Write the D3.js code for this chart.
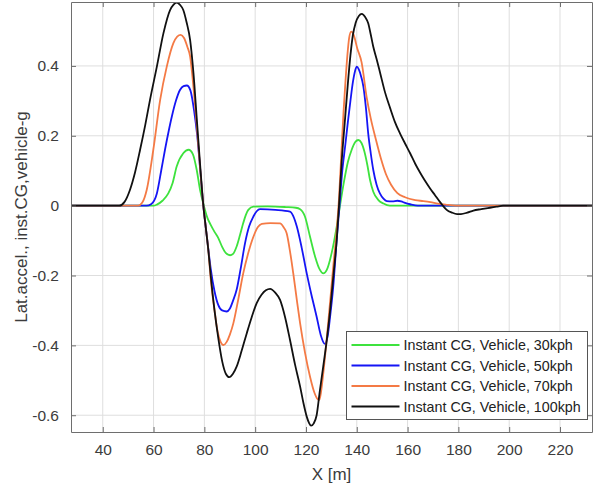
<!DOCTYPE html>
<html>
<head>
<meta charset="utf-8">
<script src="https://cdn.jsdelivr.net/npm/d3@7"></script>
<style>
  html, body { margin: 0; padding: 0; background: #fff; }
  svg { display: block; font-family: "Liberation Sans", Arial, Helvetica, sans-serif; }
</style>
</head>
<body>
<svg id="chart" width="593" height="490"></svg>
<script>
// Lateral acceleration at the instant CG vs. longitudinal position, per speed
const xTicks = [40, 60, 80, 100, 120, 140, 160, 180, 200, 220];
const yTicks = [-0.6, -0.4, -0.2, 0, 0.2, 0.4];
const xRange = [27.5, 232.6];
const yRange = [-0.648, 0.583];

const seriesNames = [
  "Instant CG, Vehicle, 30kph",
  "Instant CG, Vehicle, 50kph",
  "Instant CG, Vehicle, 70kph",
  "Instant CG, Vehicle, 100kph"
];
const seriesColors = ["#3de23d", "#1515f5", "#f47a45", "#111111"];

const x30 = [27.5, 60, 61.3, 63.5, 65.8, 67.5, 69.1, 71.7, 73.8, 75.5, 77, 78.3, 79.8, 81.2, 82.5, 84, 85.5, 87, 88.5, 90.1, 91.3, 92.7, 94, 95.3, 96.3, 97.3, 99.3, 105, 112, 116, 117.7, 119.6, 121.6, 123.6, 125.5, 126.8, 128.2, 130.1, 132.1, 133.4, 135, 136.5, 138, 139.4, 140.6, 141.8, 143, 144.2, 145.2, 146.5, 148.5, 150.5, 153, 232.6];
const y30 = [0, 0, 0.003, 0.014, 0.035, 0.065, 0.112, 0.15, 0.16, 0.147, 0.102, 0.045, 0, -0.035, -0.055, -0.075, -0.093, -0.118, -0.136, -0.142, -0.138, -0.117, -0.085, -0.05, -0.027, -0.012, -0.003, -0.002, -0.004, -0.006, -0.01, -0.031, -0.089, -0.146, -0.184, -0.194, -0.184, -0.136, -0.06, 0, 0.07, 0.125, 0.16, 0.182, 0.188, 0.18, 0.155, 0.115, 0.074, 0.04, 0.016, 0.006, 0, 0];

const x50 = [27.5, 57.3, 59, 61.3, 63, 64.5, 66, 67.2, 68.8, 70.4, 71.8, 73.1, 74.5, 76, 77.2, 78.4, 79.6, 80.6, 81.6, 82.5, 84, 85.5, 87, 88.8, 90, 91.3, 92.7, 94.3, 96, 97.6, 99.3, 100.6, 101.9, 108, 113.7, 115, 116.4, 118.3, 120.3, 122.3, 124.2, 125.8, 127.5, 128.5, 129.5, 130.7, 132.1, 133.2, 134.3, 135.5, 136.5, 137.5, 138.5, 139.3, 140, 140.8, 141.7, 142.6, 143.6, 144.5, 145.5, 146.5, 147.8, 149.1, 150.5, 151.8, 154, 156, 157.5, 159, 161, 164, 232.6];
const y50 = [0, 0, 0.004, 0.035, 0.1, 0.16, 0.215, 0.255, 0.3, 0.331, 0.342, 0.344, 0.33, 0.27, 0.2, 0.1, 0, -0.065, -0.127, -0.18, -0.245, -0.285, -0.3, -0.303, -0.295, -0.272, -0.241, -0.18, -0.108, -0.06, -0.031, -0.016, -0.01, -0.012, -0.017, -0.03, -0.06, -0.12, -0.194, -0.26, -0.318, -0.37, -0.396, -0.375, -0.318, -0.235, -0.098, 0, 0.1, 0.175, 0.24, 0.3, 0.355, 0.385, 0.398, 0.39, 0.37, 0.341, 0.28, 0.207, 0.15, 0.102, 0.06, 0.035, 0.02, 0.013, 0.012, 0.014, 0.012, 0.008, 0.004, 0, 0];

const x70 = [27.5, 54, 55.5, 57.3, 59.9, 62.6, 65.2, 67.8, 69.3, 70.7, 72, 73.3, 74.4, 75.7, 77, 78.3, 79.6, 80.6, 81.6, 82.5, 84, 85.2, 86.4, 87.5, 88.8, 90, 91.4, 93.3, 95.3, 97.3, 99.3, 101, 102.6, 106, 109.8, 111.2, 112.4, 113.7, 115, 116.4, 117.7, 119.6, 121.6, 123.3, 124.5, 125.3, 126.5, 127.8, 129.2, 130.8, 132.1, 133, 134, 134.8, 135.5, 136.3, 137, 137.8, 138.7, 140.2, 141.9, 143.9, 145.5, 147.5, 149.5, 151.5, 153.5, 156, 159, 163, 166.2, 169, 172, 175, 179, 232.6];
const y70 = [0, 0, 0.008, 0.045, 0.16, 0.303, 0.398, 0.465, 0.484, 0.489, 0.48, 0.455, 0.427, 0.34, 0.23, 0.11, 0, -0.065, -0.13, -0.21, -0.3, -0.36, -0.39, -0.399, -0.39, -0.37, -0.337, -0.27, -0.194, -0.135, -0.089, -0.062, -0.052, -0.05, -0.051, -0.062, -0.079, -0.13, -0.194, -0.27, -0.337, -0.42, -0.49, -0.535, -0.553, -0.556, -0.5, -0.41, -0.3, -0.17, -0.07, 0.02, 0.16, 0.27, 0.35, 0.43, 0.48, 0.498, 0.49, 0.45, 0.41, 0.31, 0.25, 0.19, 0.135, 0.09, 0.06, 0.036, 0.024, 0.016, 0.013, 0.01, 0.006, 0.003, 0, 0];

const x100 = [27.5, 46.5, 48.5, 50.7, 52.7, 54.7, 56.7, 58.6, 61.3, 63.9, 66.5, 67.8, 69.1, 70.4, 71.7, 73, 74.4, 75.7, 77, 78.3, 79.6, 80.6, 81.6, 82.5, 84, 85.5, 87, 88.5, 89.8, 91.2, 92.7, 94.7, 96.7, 98.6, 100.6, 102.5, 104.2, 105.9, 107.8, 109.8, 111.8, 113.7, 115.7, 117.7, 119, 120.3, 121.2, 122, 123, 124.2, 125.5, 126.8, 128.2, 129.5, 130.8, 132.1, 133, 134, 135.4, 136.5, 137.5, 138.5, 139.5, 140.8, 142, 143.3, 144.5, 145.5, 146.5, 147.8, 149.2, 151.1, 153.1, 155, 157, 159, 161, 163, 164.9, 166.8, 168.8, 170.8, 172.8, 174, 175.4, 177.5, 179.5, 181, 183.5, 185.9, 189, 192.4, 195, 197.6, 232.6];
const y100 = [0, 0, 0.01, 0.045, 0.095, 0.16, 0.23, 0.303, 0.398, 0.494, 0.56, 0.575, 0.581, 0.575, 0.56, 0.525, 0.474, 0.38, 0.25, 0.12, 0, -0.065, -0.13, -0.2, -0.3, -0.38, -0.445, -0.482, -0.491, -0.482, -0.461, -0.415, -0.365, -0.32, -0.279, -0.255, -0.242, -0.238, -0.248, -0.27, -0.32, -0.384, -0.455, -0.518, -0.565, -0.604, -0.622, -0.63, -0.624, -0.6, -0.528, -0.46, -0.384, -0.3, -0.2, -0.098, 0, 0.12, 0.25, 0.35, 0.43, 0.49, 0.522, 0.543, 0.549, 0.54, 0.522, 0.49, 0.455, 0.42, 0.38, 0.325, 0.28, 0.24, 0.207, 0.178, 0.15, 0.12, 0.095, 0.072, 0.05, 0.03, 0.01, -0.001, -0.012, -0.02, -0.024, -0.024, -0.02, -0.014, -0.01, -0.006, -0.003, 0, 0];

const seriesX = [x30, x50, x70, x100];
const seriesY = [y30, y50, y70, y100];

const svg = d3.select("#chart");
const plot = { left: 71, top: 2, right: 592, bottom: 432 };

const xScale = d3.scaleLinear().domain(xRange).range([plot.left, plot.right]);
const yScale = d3.scaleLinear().domain(yRange).range([plot.bottom, plot.top]);

const axisColor = "#6e6e6e";
const textColor = "#3c3c3c";
const tickFont = "15.5px";

// grid
const grid = svg.append("g");
grid.selectAll("line.gx").data(xTicks).join("line")
  .attr("x1", d => xScale(d)).attr("x2", d => xScale(d))
  .attr("y1", plot.top).attr("y2", plot.bottom)
  .attr("stroke", "#dedede").attr("stroke-width", 1);
grid.selectAll("line.gy").data(yTicks).join("line")
  .attr("x1", plot.left).attr("x2", plot.right)
  .attr("y1", d => yScale(d)).attr("y2", d => yScale(d))
  .attr("stroke", "#dedede").attr("stroke-width", 1);

// curves
svg.append("defs").append("clipPath").attr("id", "clip")
  .append("rect").attr("x", plot.left).attr("y", plot.top)
  .attr("width", plot.right - plot.left).attr("height", plot.bottom - plot.top);

const line = d3.line()
  .x(d => xScale(d[0])).y(d => yScale(d[1]))
  .curve(d3.curveMonotoneX);

const curves = svg.append("g").attr("clip-path", "url(#clip)");
seriesX.forEach((xs, i) => {
  const pts = xs.map((v, j) => [v, seriesY[i][j]]);
  curves.append("path").datum(pts)
    .attr("d", line)
    .attr("fill", "none")
    .attr("stroke", seriesColors[i])
    .attr("stroke-width", 1.8)
    .attr("stroke-linejoin", "round");
});

// axes (MATLAB-style box with inward ticks)
function styleAxis(g, showLabels) {
  g.select(".domain").attr("stroke", axisColor).attr("stroke-width", 1);
  g.selectAll(".tick line").attr("stroke", axisColor);
  g.selectAll(".tick text").attr("fill", textColor).style("font-size", tickFont)
    .style("display", showLabels ? null : "none");
}
const fmtY = d => (d === 0 ? "0" : d3.format(".1f")(d).replace("−", "-"));

svg.append("g").attr("transform", `translate(0,${plot.bottom})`)
  .call(d3.axisBottom(xScale).tickValues(xTicks).tickSizeInner(-5).tickSizeOuter(0).tickPadding(12))
  .call(g => styleAxis(g, true));
svg.append("g").attr("transform", `translate(0,${plot.top})`)
  .call(d3.axisTop(xScale).tickValues(xTicks).tickSizeInner(-5).tickSizeOuter(0))
  .call(g => styleAxis(g, false));
svg.append("g").attr("transform", `translate(${plot.left},0)`)
  .call(d3.axisLeft(yScale).tickValues(yTicks).tickFormat(fmtY).tickSizeInner(-5).tickSizeOuter(0).tickPadding(12))
  .call(g => styleAxis(g, true));
svg.append("g").attr("transform", `translate(${plot.right},0)`)
  .call(d3.axisRight(yScale).tickValues(yTicks).tickSizeInner(-5).tickSizeOuter(0))
  .call(g => styleAxis(g, false));

// axis titles
svg.append("text")
  .attr("x", (plot.left + plot.right) / 2).attr("y", 480)
  .attr("text-anchor", "middle").attr("fill", textColor)
  .style("font-size", "17px").text("X [m]");
svg.append("text")
  .attr("transform", `translate(27,${(plot.top + plot.bottom) / 2}) rotate(-90)`)
  .attr("text-anchor", "middle").attr("fill", textColor)
  .style("font-size", "17px").text("Lat.accel., inst.CG,vehicle-g");

// legend
const legend = svg.append("g").attr("transform", "translate(346.5,331.5)");
legend.append("rect").attr("width", 241).attr("height", 88)
  .attr("fill", "#fff").attr("stroke", "#555").attr("stroke-width", 1);
seriesNames.forEach((name, i) => {
  const cy = 13.5 + i * 20.5;
  legend.append("line").attr("x1", 5).attr("x2", 53).attr("y1", cy).attr("y2", cy)
    .attr("stroke", seriesColors[i]).attr("stroke-width", 1.8);
  legend.append("text").attr("x", 57).attr("y", cy + 5)
    .attr("fill", "#222").style("font-size", "14.3px").text(name);
});
</script>
</body>
</html>
